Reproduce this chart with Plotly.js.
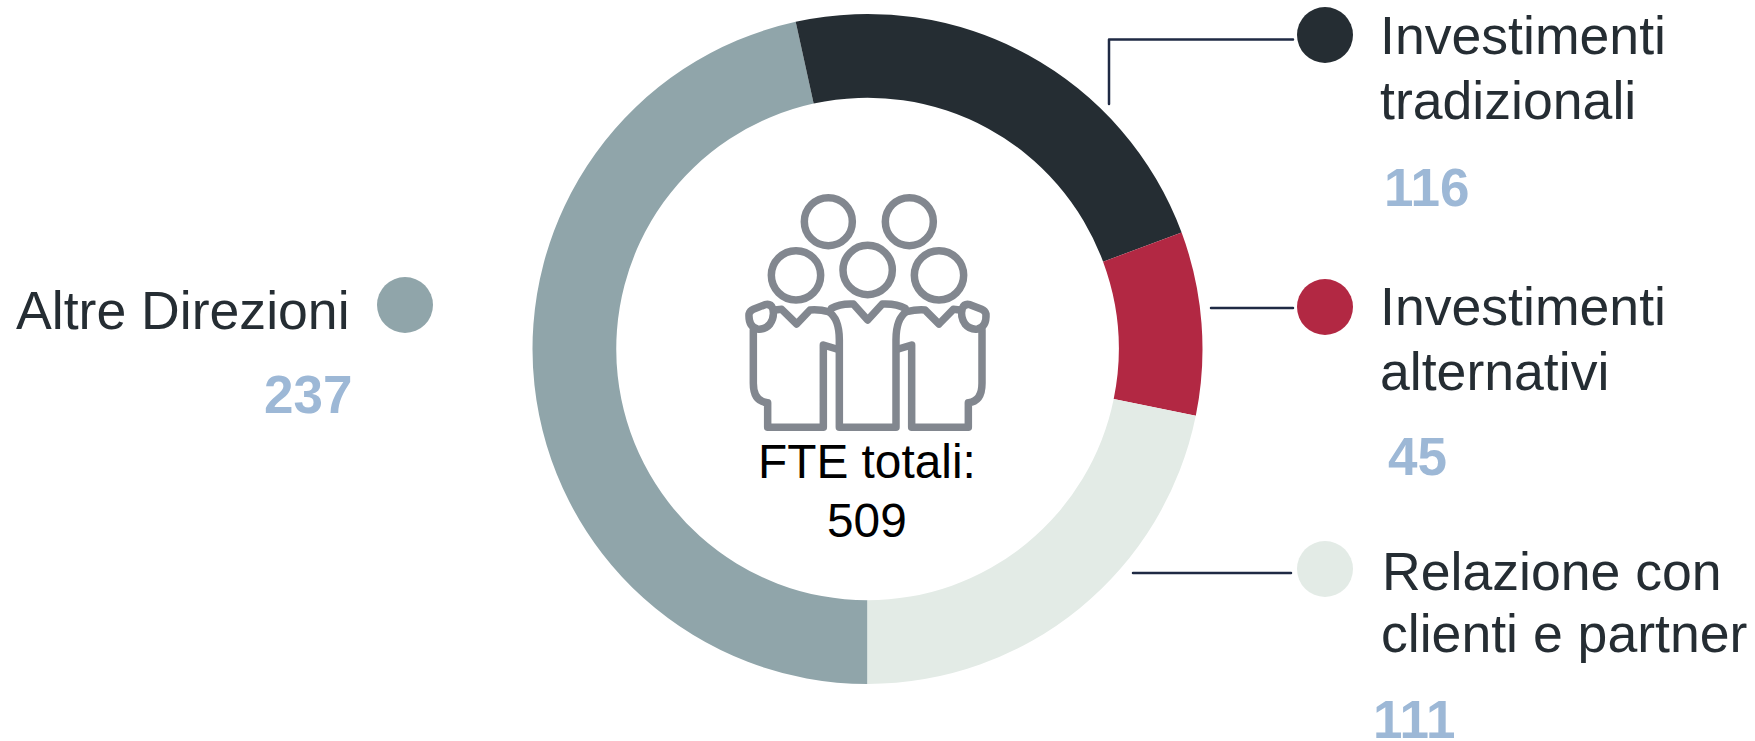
<!DOCTYPE html>
<html><head><meta charset="utf-8">
<script src="https://cdn.plot.ly/plotly-3.0.1.min.js"></script>
<style>html,body{margin:0;padding:0;background:#fff}#c{width:1755px;height:741px}
.shapelayer path{stroke-linejoin:round;stroke-linecap:round}</style></head>
<body><div id="c"></div>
<script>
const categories = ["Altre Direzioni", "Investimenti tradizionali", "Investimenti alternativi", "Relazione con clienti e partner"];
const values = [237, 116, 45, 111];
const sliceColors = ["#90a5aa", "#252d33", "#b22843", "#e3ebe6"];
const centerLines = ["FTE totali:", "509"];
const labelLines = [["Altre Direzioni"], ["Investimenti", "tradizionali"], ["Investimenti", "alternativi"], ["Relazione con", "clienti e partner"]];

const W = 1755, H = 741;
const px = x => x / W, py = y => 1 - y / H;
const FONT = "Liberation Sans, Arial, sans-serif";
const TXT = "#252d33", NUM = "#9db8d6", LINE = "#1f2a44", ICON = "#82878f";

/* text layout: [x, baseline] */
const labelPos = [
  [[16, 327]],
  [[1380, 52], [1380, 116.5]],
  [[1380, 323], [1380, 387.5]],
  [[1382, 588], [1381, 650]]
];
const numPos = [[264, 411], [1384, 204], [1388, 473], [1373, 736]];
const dotPos = [[405, 305], [1325, 35], [1325, 307], [1325, 569]];

function text(t, x, base, size, color, bold, anchor) {
  return {text: bold ? "<b>" + t + "</b>" : t, xref: "paper", yref: "paper", x: px(x), y: py(base + size * 0.25),
    xanchor: anchor || "left", yanchor: "bottom", showarrow: false, borderpad: 0, borderwidth: 0,
    font: {family: FONT, size: size, color: color}};
}
const annotations = [];
labelLines.forEach((lines, i) => {
  lines.forEach((l, j) => annotations.push(text(l, labelPos[i][j][0], labelPos[i][j][1], 53.6, TXT, false)));
  annotations.push(text(String(values[i]), numPos[i][0], numPos[i][1], 53, NUM, true));
});
annotations.push(text(centerLines[0], 867, 476, 47.8, "#000", false, "center"));
annotations.push(text(centerLines[1], 867, 535, 47.8, "#000", false, "center"));

const shapes = [];
dotPos.forEach((p, i) => shapes.push({type: "circle", xref: "paper", yref: "paper",
  x0: px(p[0] - 28), x1: px(p[0] + 28), y0: py(p[1] + 28), y1: py(p[1] - 28),
  fillcolor: sliceColors[i], line: {width: 0}}));

function pathPx(d) {
  return d.replace(/(-?[\d.]+),(-?[\d.]+)/g, (m, a, b) => px(+a) + "," + py(+b));
}
[ "M1109,104 L1109,39.5 L1293,39.5", "M1211,308 L1293,308", "M1133,573 L1291,573" ].forEach(d =>
  shapes.push({type: "path", xref: "paper", yref: "paper", path: pathPx(d), line: {color: LINE, width: 2.5}}));

/* people icon, drawn in crop units (3x, origin 720,170) */
function icon(d) {
  return pathPx(d.replace(/(-?[\d.]+),(-?[\d.]+)/g, (m, a, b) => (720 + a / 3) + "," + (170 + b / 3)));
}
[[325,155,72],[568,155,72],[228,316,74],[443,300,74],[657,316,74]].forEach(c => {
  const cx = 720 + c[0] / 3, cy = 170 + c[1] / 3, r = c[2] / 3;
  shapes.push({type: "circle", xref: "paper", yref: "paper", x0: px(cx - r), x1: px(cx + r), y0: py(cy + r), y1: py(cy - r),
    line: {color: ICON, width: 7.5}, fillcolor: "rgba(0,0,0,0)"});
});
[
 "M87,432 Q90,422 100,418 L135,404 Q152,400 158,415 Q165,440 150,462 Q135,480 112,477 Q85,470 87,432 Z",
 "M100,480 L100,640 Q100,695 143,698 L143,772 L310,772 L310,525 L350,537",
 "M165,420 L185,418 L230,462 L270,420 Q300,418 325,425 Q358,445 358,510 L358,772 L528,772 L528,510 Q528,445 560,425 Q590,418 615,420 L657,462 L700,418 L720,420",
 "M335,415 Q360,400 400,402 L443,450 L487,402 Q530,400 555,415",
 "M786,480 L786,640 Q786,695 745,698 L745,772 L575,772 L575,525 L535,537",
 "M798,432 Q795,422 785,418 L750,404 Q733,400 727,415 Q720,440 735,462 Q750,480 773,477 Q800,470 798,432 Z"
].forEach(d => shapes.push({type: "path", xref: "paper", yref: "paper", path: icon(d),
  line: {color: ICON, width: 7.5}, fillcolor: "rgba(0,0,0,0)"}));

Plotly.newPlot("c", [{
  type: "pie", labels: categories, values: values, sort: false, direction: "clockwise", rotation: 180,
  hole: 0.75, textinfo: "none", marker: {colors: sliceColors, line: {width: 0}},
  domain: {x: [0, 2 * 867.5 / W], y: [1 - 684 / H, 1 - 14 / H]}
}], {
  width: W, height: H, margin: {l: 0, r: 0, t: 0, b: 0}, showlegend: false,
  paper_bgcolor: "#fff", plot_bgcolor: "#fff", annotations: annotations, shapes: shapes
}, {displayModeBar: false, staticPlot: true});
</script></body></html>
